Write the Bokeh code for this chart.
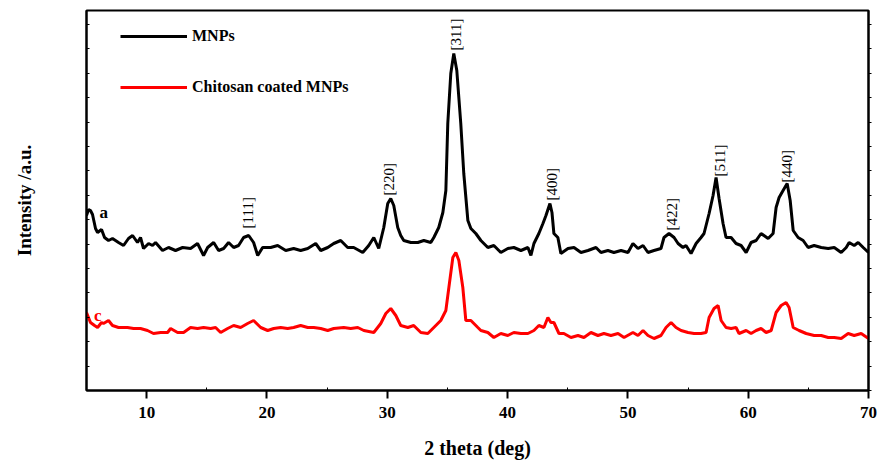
import math
from bokeh.plotting import figure
from bokeh.models import (Range1d, LinearAxis, FixedTicker, Legend, LegendItem,
                          ColumnDataSource, CustomJSTickFormatter)
from bokeh.core.properties import value
from bokeh.embed import file_html
from bokeh.resources import INLINE

# ---- data (2 theta in degrees, intensity in a.u.) ----
black_x = [5.00, 5.17, 5.33, 5.50, 5.75, 5.92, 6.25, 6.50, 6.83, 7.16,
           7.66, 8.08, 8.49, 8.83, 9.24, 9.49, 9.74, 10.16, 10.49, 10.74,
           11.32, 11.82, 12.40, 12.99, 13.65, 14.23, 14.73, 15.07, 15.57, 15.98,
           16.40, 16.81, 17.23, 17.64, 18.06, 18.48, 18.89, 19.23, 19.64, 20.31,
           20.89, 21.56, 22.22, 22.80, 23.39, 24.05, 24.47, 25.05, 25.55, 26.13,
           26.71, 27.21, 27.96, 28.46, 28.88, 29.29, 29.71, 30.04, 30.29, 30.54,
           30.87, 31.12, 31.37, 31.96, 32.54, 33.04, 33.62, 33.87, 34.28, 34.62,
           34.87, 35.03, 35.28, 35.53, 35.78, 36.11, 36.36, 36.70, 36.95, 37.36,
           37.78, 38.36, 38.86, 39.44, 40.02, 40.52, 41.11, 41.69, 41.94, 42.19,
           42.60, 42.94, 43.19, 43.52, 43.69, 43.85, 44.18, 44.43, 45.02, 45.52,
           46.10, 46.68, 47.35, 47.76, 48.34, 48.84, 49.43, 50.01, 50.42, 50.84,
           51.26, 51.67, 52.17, 52.75, 53.00, 53.42, 53.84, 54.17, 54.58, 54.83,
           55.25, 55.67, 56.08, 56.33, 56.75, 57.08, 57.33, 57.58, 57.91, 58.16,
           58.58, 58.99, 59.41, 59.83, 60.24, 60.66, 61.07, 61.66, 62.07, 62.32,
           62.57, 62.90, 63.24, 63.49, 63.74, 64.15, 64.57, 64.98, 65.48, 66.07,
           66.65, 67.15, 67.73, 68.15, 68.39, 68.81, 69.14, 69.56, 70.00]
black_y = [175, 181, 180, 176, 162, 158, 161, 153, 150, 152,
           148, 145, 152, 155, 148, 153, 142, 147, 145, 148,
           140, 143, 140, 143, 142, 147, 135, 143, 148, 140,
           142, 148, 143, 145, 153, 155, 148, 135, 143, 143,
           145, 140, 142, 140, 142, 147, 140, 143, 147, 150,
           143, 143, 138, 145, 153, 142, 163, 187, 192, 185,
           163, 155, 150, 148, 148, 150, 148, 153, 163, 178,
           200, 267, 317, 337, 320, 267, 217, 170, 162, 157,
           150, 143, 145, 138, 142, 143, 140, 143, 135, 147,
           157, 167, 175, 187, 178, 157, 153, 137, 142, 143,
           138, 140, 143, 138, 140, 138, 140, 138, 147, 142,
           145, 138, 140, 142, 153, 157, 153, 147, 143, 145,
           137, 147, 153, 157, 177, 195, 213, 192, 167, 153,
           153, 147, 145, 138, 148, 150, 157, 152, 157, 183,
           193, 200, 207, 190, 160, 153, 150, 143, 145, 143,
           142, 143, 138, 143, 148, 145, 148, 143, 138]

red_x = [5.00, 5.33, 5.67, 5.92, 6.25, 6.41, 6.83, 7.16, 7.66, 8.41,
         8.91, 9.49, 10.07, 10.57, 11.16, 11.74, 11.99, 12.57, 13.07, 13.65,
         14.23, 14.73, 15.32, 15.73, 16.15, 16.73, 17.23, 17.81, 18.39, 18.89,
         19.48, 20.06, 20.56, 21.14, 21.72, 22.22, 22.80, 23.39, 23.89, 24.47,
         25.05, 25.55, 26.38, 26.96, 27.55, 28.05, 28.88, 29.46, 29.88, 30.29,
         30.71, 31.12, 31.71, 32.20, 32.79, 33.37, 33.87, 34.45, 34.87, 35.12,
         35.45, 35.70, 35.95, 36.28, 36.53, 36.95, 37.53, 37.78, 38.36, 38.86,
         39.44, 40.02, 40.52, 41.11, 41.69, 42.19, 42.60, 43.02, 43.35, 43.60,
         43.85, 44.27, 44.68, 45.27, 45.85, 46.35, 46.93, 47.51, 48.01, 48.59,
         49.18, 49.68, 50.42, 50.84, 51.26, 51.67, 52.17, 52.75, 53.17, 53.59,
         54.00, 54.42, 55.00, 55.50, 56.08, 56.50, 56.75, 57.16, 57.50, 57.75,
         58.16, 58.58, 58.99, 59.24, 59.83, 60.24, 60.66, 61.07, 61.49, 61.91,
         62.32, 62.74, 63.15, 63.40, 63.74, 64.23, 64.82, 65.48, 66.07, 66.65,
         67.15, 67.73, 68.31, 68.81, 69.39, 70.00]
red_y = [78, 68, 65, 63, 68, 67, 70, 65, 63, 63,
         62, 62, 60, 57, 58, 58, 62, 58, 58, 63,
         62, 63, 62, 63, 58, 62, 65, 63, 67, 70,
         63, 60, 62, 63, 62, 63, 65, 63, 63, 62,
         60, 62, 63, 62, 63, 60, 58, 67, 77, 82,
         75, 65, 63, 65, 58, 57, 63, 70, 80, 103,
         133, 138, 130, 103, 70, 70, 63, 60, 58, 53,
         57, 55, 58, 57, 57, 60, 65, 63, 73, 68,
         68, 57, 57, 53, 55, 53, 58, 55, 57, 55,
         57, 53, 58, 55, 60, 55, 52, 55, 63, 68,
         63, 60, 58, 57, 57, 58, 73, 82, 85, 70,
         63, 62, 63, 57, 60, 57, 60, 62, 58, 60,
         78, 85, 88, 83, 63, 60, 57, 55, 55, 53,
         53, 52, 57, 55, 57, 52]

hkl_labels = ["[111]", "[220]", "[311]", "[400]", "[422]", "[511]", "[440]"]
hkl_x = [18.39, 30.12, 35.70, 43.69, 53.67, 57.66, 63.24]
hkl_y = [162, 195, 340, 190, 160, 214, 208]

series_names = ["MNPs", "Chitosan coated MNPs"]
x_ticks = [10, 20, 30, 40, 50, 60, 70]
x_minor = [15, 25, 35, 45, 55, 65]
y_ticks = [0, 24.4, 48.8, 73.2, 97.6, 122, 146.4, 170.8, 195.2, 219.6,
           244, 268.4, 292.8, 317.2, 341.6, 366]

SERIF = "Liberation Serif"
blank = CustomJSTickFormatter(code="return ''")

p = figure(width=880, height=468, x_range=Range1d(5, 70), y_range=Range1d(0, 380),
           output_backend="svg", toolbar_location=None,
           min_border_left=86, min_border_right=12, min_border_top=10, min_border_bottom=78)
p.xgrid.visible = False
p.ygrid.visible = False
p.outline_line_color = "black"
p.outline_line_width = 2
p.background_fill_color = "white"
p.border_fill_color = "white"

# x axis
xa = p.xaxis[0]
xa.ticker = FixedTicker(ticks=x_ticks, minor_ticks=x_minor)
xa.axis_line_width = 2
xa.axis_line_color = "black"
xa.major_tick_line_width = 2
xa.major_tick_line_color = "black"
xa.minor_tick_line_color = "black"
xa.major_tick_out = 8
xa.major_tick_in = 0
xa.minor_tick_in = 3
xa.minor_tick_out = 0
xa.major_label_text_font = SERIF
xa.major_label_text_font_style = "bold"
xa.major_label_text_font_size = "17px"
xa.major_label_text_color = "black"
xa.major_label_standoff = 8
xa.axis_label = "2 theta (deg)"
xa.axis_label_text_font = SERIF
xa.axis_label_text_font_style = "bold"
xa.axis_label_text_font_size = "20px"
xa.axis_label_text_color = "black"
xa.axis_label_standoff = 16

# left y axis
ya = p.yaxis[0]
ya.ticker = FixedTicker(ticks=y_ticks)
ya.formatter = blank
ya.axis_line_width = 2
ya.axis_line_color = "black"
ya.major_tick_line_color = "black"
ya.major_tick_in = 3
ya.major_tick_out = 0
ya.minor_tick_line_color = None
ya.major_label_standoff = 0
ya.axis_label = "Intensity /a.u."
ya.axis_label_text_font = SERIF
ya.axis_label_text_font_style = "bold"
ya.axis_label_text_font_size = "19px"
ya.axis_label_text_color = "black"
ya.axis_label_standoff = 52

# right y axis
ra = LinearAxis(ticker=FixedTicker(ticks=y_ticks), formatter=blank)
ra.axis_line_width = 2
ra.axis_line_color = "black"
ra.major_tick_line_color = "black"
ra.major_tick_in = 0
ra.major_tick_out = 3
ra.minor_tick_line_color = None
ra.major_label_standoff = 0
p.add_layout(ra, "right")

r_black = p.line(black_x, black_y, line_color="black", line_width=3)
r_red = p.line(red_x, red_y, line_color="#ff0000", line_width=3)

legend = Legend(items=[LegendItem(label=series_names[0], renderers=[r_black]),
                       LegendItem(label=series_names[1], renderers=[r_red])],
                location=(34, 293), glyph_width=67, glyph_height=20, label_height=20,
                spacing=31, padding=0, margin=0, label_standoff=5,
                border_line_alpha=0, background_fill_alpha=0,
                label_text_font=SERIF, label_text_font_style="bold",
                label_text_font_size="16px", label_text_color="black")
p.add_layout(legend)

src = ColumnDataSource(dict(x=hkl_x, y=hkl_y, t=hkl_labels))
p.text(x="x", y="y", text="t", source=src, angle=math.pi / 2,
       text_font=value(SERIF), text_font_size="15px",
       text_align="left", text_baseline="middle", text_color="black")

p.text(x=[6.08], y=[178], text=["a"], text_font=value(SERIF), text_font_style="bold",
       text_font_size="17px", text_color="black", text_align="left", text_baseline="alphabetic")
p.text(x=[5.62], y=[75], text=["c"], text_font=value(SERIF), text_font_style="bold",
       text_font_size="17px", text_color="#ff0000", text_align="left", text_baseline="alphabetic")

open("out.html", "w").write(file_html(p, INLINE))
